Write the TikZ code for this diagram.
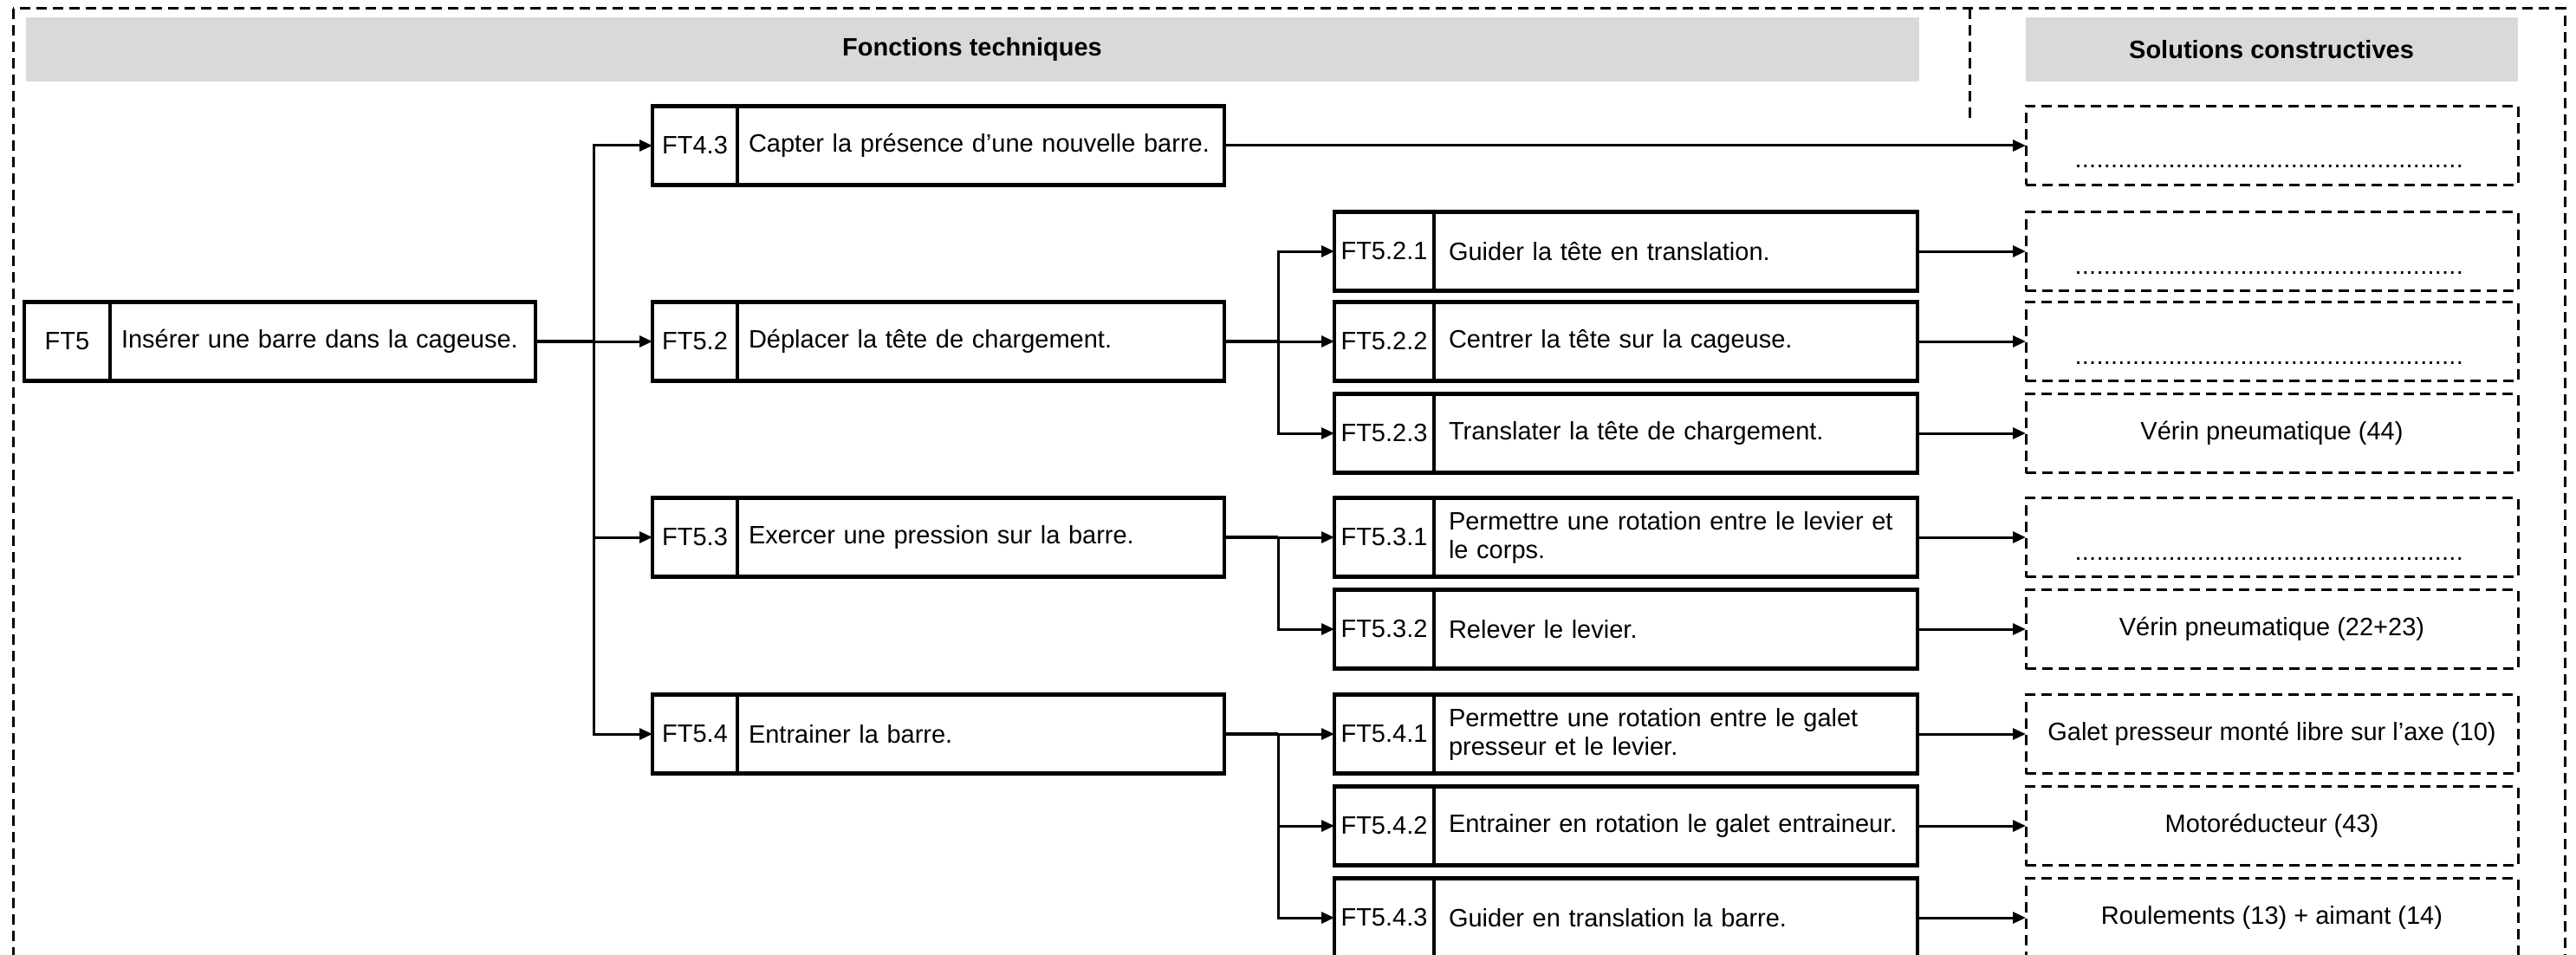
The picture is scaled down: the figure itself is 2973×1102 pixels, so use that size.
\documentclass[tikz,border=0pt]{standalone}
\usepackage{fontspec}
\setmainfont{Liberation Sans}
\usetikzlibrary{arrows.meta}
\definecolor{grisentete}{RGB}{217,217,217}
\newcommand{\pointilles}{\raisebox{-26pt}[0pt][0pt]{\makebox[455pt]{\leaders\hbox to 8.3pt{\hss.\hss}\hfill}}}

\begin{document}
\begin{tikzpicture}[x=1pt,y=-1pt,>={Triangle[length=15pt,width=13pt]},line width=3pt,
    every node/.style={font=\fontsize{29}{33}\selectfont}]
    \tikzstyle{num}=[draw, line width=4.5pt, anchor=west, minimum height=91pt, inner sep=0pt, outer sep=0pt, align=center]
    \tikzstyle{txt}=[draw, line width=4.5pt, anchor=west, minimum height=91pt, inner xsep=13pt, inner ysep=0pt, outer sep=0pt, align=left]
    \tikzstyle{tirets}=[line width=3pt, dash pattern=on 12pt off 7pt]
    \tikzstyle{sol}=[draw, tirets, anchor=west, minimum width=568pt, minimum height=91pt, outer sep=0pt, align=center]
    \tikzstyle{entete}=[fill=grisentete, anchor=north west, minimum height=74pt, font=\fontsize{29}{33}\selectfont\bfseries]
    \useasboundingbox (0,0) rectangle (2973,1102);
    \clip (0,0) rectangle (2973,1102);
    \draw[tirets] (15,10) rectangle (2960,1160);
    \draw[tirets] (2273,10) -- (2273,142);
    \node[entete, minimum width=2185pt] (hft) at (28,19) {Fonctions techniques};
    \node[entete, minimum width=568pt] (hsc) at (2336,19) {Solutions constructives};

    \node[num, minimum width=99pt] (n5) at (28,394) {FT5};
    \node[txt, text width=465pt] (t5) at (n5.east) {Insérer une barre dans la cageuse.};

    \node[num, minimum width=98pt] (n43) at (753,168) {FT4.3};
    \node[txt, text width=536pt] (t43) at (n43.east) {Capter la présence d’une nouvelle barre.};
    \node[num, minimum width=98pt] (n52) at (753,394) {FT5.2};
    \node[txt, text width=536pt] (t52) at (n52.east) {Déplacer la tête de chargement.};
    \node[num, minimum width=98pt] (n53) at (753,620) {FT5.3};
    \node[txt, text width=536pt] (t53) at (n53.east) {Exercer une pression sur la barre.};
    \node[num, minimum width=98pt] (n54) at (753,847) {FT5.4};
    \node[txt, text width=536pt] (t54) at (n54.east) {Entrainer la barre.};

    \tikzstyle{txt3}=[txt, inner xsep=17pt, text width=524pt]
    \node[num, minimum width=115pt] (n521) at (1540,290) {FT5.2.1};
    \node[txt3] (t521) at (n521.east) {Guider la tête en translation.};
    \node[num, minimum width=115pt] (n522) at (1540,394) {FT5.2.2};
    \node[txt3] (t522) at (n522.east) {Centrer la tête sur la cageuse.};
    \node[num, minimum width=115pt] (n523) at (1540,500) {FT5.2.3};
    \node[txt3] (t523) at (n523.east) {Translater la tête de chargement.};
    \node[num, minimum width=115pt] (n531) at (1540,620) {FT5.3.1};
    \node[txt3] (t531) at (n531.east) {Permettre une rotation entre le levier et\\le corps.};
    \node[num, minimum width=115pt] (n532) at (1540,726) {FT5.3.2};
    \node[txt3] (t532) at (n532.east) {Relever le levier.};
    \node[num, minimum width=115pt] (n541) at (1540,847) {FT5.4.1};
    \node[txt3] (t541) at (n541.east) {Permettre une rotation entre le galet\\presseur et le levier.};
    \node[num, minimum width=115pt] (n542) at (1540,953) {FT5.4.2};
    \node[txt3] (t542) at (n542.east) {Entrainer en rotation le galet entraineur.};
    \node[num, minimum width=115pt] (n543) at (1540,1059) {FT5.4.3};
    \node[txt3] (t543) at (n543.east) {Guider en translation la barre.};

    \node[sol] (s43) at (2338,168) {\pointilles};
    \node[sol] (s521) at (2338,290) {\pointilles};
    \node[sol] (s522) at (2338,394) {\pointilles};
    \node[sol] (s523) at (2338,500) {Vérin pneumatique (44)};
    \node[sol] (s531) at (2338,620) {\pointilles};
    \node[sol] (s532) at (2338,726) {Vérin pneumatique (22+23)};
    \node[sol] (s541) at (2338,847) {Galet presseur monté libre sur l’axe (10)};
    \node[sol] (s542) at (2338,953) {Motoréducteur (43)};
    \node[sol] (s543) at (2338,1059) {Roulements (13) + aimant (14)};

    % embranchements
    \coordinate (j1) at ([xshift=67pt]t5.east);
    \draw[line width=4.5pt] (t5.east) -- (j1);
    \draw[->] (j1) |- (n43.west);
    \draw[->] (j1) -- (n52.west);
    \draw[->] (j1) |- (n53.west);
    \draw[->] (j1) |- (n54.west);

    \coordinate (j2) at ([xshift=62pt]t52.east);
    \draw[line width=4.5pt] (t52.east) -- (j2);
    \draw[->] (j2) |- (n521.west);
    \draw[->] (j2) -- (n522.west);
    \draw[->] (j2) |- (n523.west);

    \coordinate (j3) at ([xshift=62pt]t53.east);
    \draw[line width=4.5pt] (t53.east) -- (j3);
    \draw[->] (j3) -- (n531.west);
    \draw[->] (j3) |- (n532.west);

    \coordinate (j4) at ([xshift=62pt]t54.east);
    \draw[line width=4.5pt] (t54.east) -- (j4);
    \draw[->] (j4) -- (n541.west);
    \draw[->] (j4) |- (n542.west);
    \draw[->] (j4) |- (n543.west);

    % vers les solutions
    \draw[->] (t43.east) -- (s43.west);
    \draw[->] (t521.east) -- (s521.west);
    \draw[->] (t522.east) -- (s522.west);
    \draw[->] (t523.east) -- (s523.west);
    \draw[->] (t531.east) -- (s531.west);
    \draw[->] (t532.east) -- (s532.west);
    \draw[->] (t541.east) -- (s541.west);
    \draw[->] (t542.east) -- (s542.west);
    \draw[->] (t543.east) -- (s543.west);
\end{tikzpicture}
\end{document}
